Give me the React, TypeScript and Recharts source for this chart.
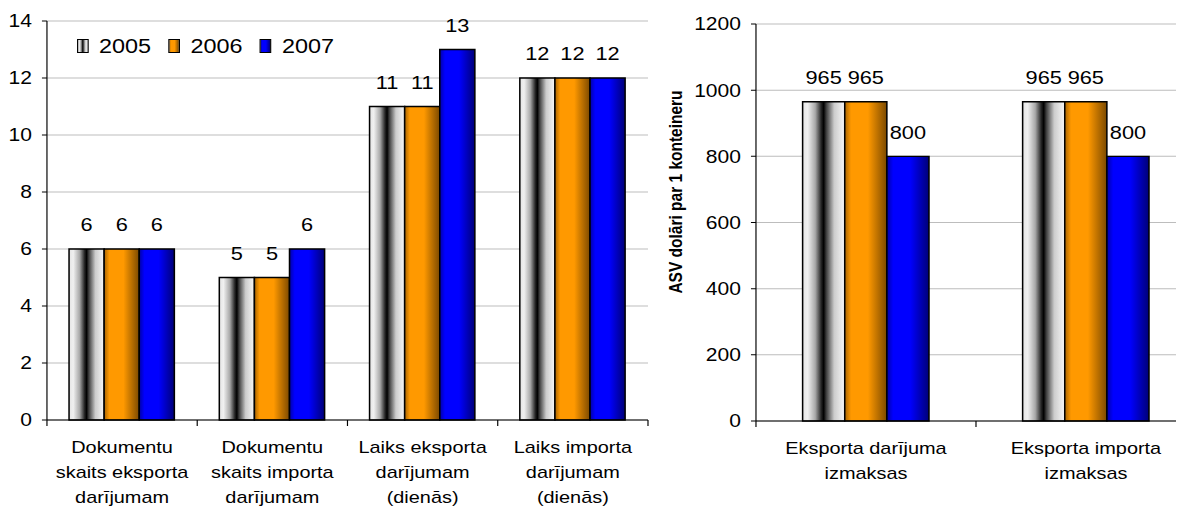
import React from 'react';
import { BarChart, Bar, XAxis, YAxis, CartesianGrid, LabelList, Legend, Label } from 'recharts';

// ---- data ----
const seriesNames = ['2005', '2006', '2007'];

const leftCategories = [
  'Dokumentu\nskaits eksporta\ndarījumam',
  'Dokumentu\nskaits importa\ndarījumam',
  'Laiks eksporta\ndarījumam\n(dienās)',
  'Laiks importa\ndarījumam\n(dienās)',
];
const left2005 = [6, 5, 11, 12];
const left2006 = [6, 5, 11, 12];
const left2007 = [6, 6, 13, 12];
const leftTicks = [0, 2, 4, 6, 8, 10, 12, 14];

const rightCategories = ['Eksporta darījuma\nizmaksas', 'Eksporta importa\nizmaksas'];
const right2005 = [965, 965];
const right2006 = [965, 965];
const right2007 = [800, 800];
const rightTicks = [0, 200, 400, 600, 800, 1000, 1200];
const rightAxisTitle = 'ASV dolāri par 1 konteineru';

const leftData = leftCategories.map((name, i) => ({
  name, y2005: left2005[i], y2006: left2006[i], y2007: left2007[i],
}));
const rightData = rightCategories.map((name, i) => ({
  name, y2005: right2005[i], y2006: right2006[i], y2007: right2007[i],
}));

// ---- layout ----
const STRETCH = 1.17;
const FONT = '"Liberation Sans", Arial, Helvetica, sans-serif';
const H = 508;

const LW = 549;
const L_MARGIN = { top: 13, right: 2, bottom: 16, left: 0 };
const L_YW = 33.3;
const L_BAND = (LW - L_MARGIN.left - L_MARGIN.right - L_YW) / leftCategories.length;

const RW = 466.4;
const R_MARGIN = { top: 16, right: 0, bottom: 15, left: 0 };
const R_YW = 90.3;
const R_BAND = (RW - R_MARGIN.left - R_MARGIN.right - R_YW) / rightCategories.length;

const GRAD_STOPS: Record<string, [number, string][]> = {
  s2005: [
    [0, '#e4e4e4'], [0.12, '#f0f0f0'], [0.3, '#a8a8a8'], [0.44, '#262626'],
    [0.5, '#000000'], [0.56, '#3c3c3c'], [0.75, '#cccccc'], [1, '#f8f8f8'],
  ],
  s2006: [[0, '#a86400'], [0.15, '#ff9900'], [0.55, '#ff9900'], [1, '#7c4a00']],
  s2007: [[0, '#0000a8'], [0.15, '#0000ff'], [0.55, '#0000ff'], [1, '#000078']],
};
const seriesKeys = ['s2005', 's2006', 's2007'];

const cssGradient = (key: string) =>
  `linear-gradient(to right, ${GRAD_STOPS[key].map(([o, c]) => `${c} ${o * 100}%`).join(', ')})`;

const Gradients = ({ prefix }: { prefix: string }) => (
  <defs>
    {seriesKeys.map((k) => (
      <linearGradient key={k} id={`${prefix}-${k}`} x1="0" y1="0" x2="1" y2="0">
        {GRAD_STOPS[k].map(([o, c], i) => (
          <stop key={i} offset={o} stopColor={c} />
        ))}
      </linearGradient>
    ))}
  </defs>
);

// category labels centred under each band, with tick marks on the band edges
const makeCategoryTick = (band: number, count: number) => (props: any) => {
  const { x, y, payload, index } = props;
  const lines = String(payload.value).split('\n');
  return (
    <g>
      <line x1={x - band / 2} x2={x - band / 2} y1={y} y2={y + 6} stroke="#000" />
      {index === count - 1 && (
        <line x1={x + band / 2} x2={x + band / 2} y1={y} y2={y + 6} stroke="#000" />
      )}
      <text x={x} y={y} textAnchor="middle" fontSize={17} fill="#000">
        {lines.map((l, i) => (
          <tspan key={i} x={x} y={y + 33 + i * 25}>{l}</tspan>
        ))}
      </text>
    </g>
  );
};

const LegendContent = () => (
  <div style={{ display: 'flex', alignItems: 'center', fontFamily: FONT, fontSize: 20, lineHeight: '20px', color: '#000' }}>
    {seriesNames.map((n, i) => (
      <div key={n} style={{ display: 'flex', alignItems: 'center', width: 78.2, height: 20 }}>
        <span
          style={{
            display: 'inline-block', width: 10, height: 14, boxSizing: 'border-box',
            border: '1px solid #000', background: cssGradient(seriesKeys[i]),
          }}
        />
        <span style={{ marginLeft: 8.8 }}>{n}</span>
      </div>
    ))}
  </div>
);

const renderBars = (prefix: string) =>
  seriesKeys.map((k, i) => (
    <Bar
      key={k}
      dataKey={`y${seriesNames[i]}`}
      name={seriesNames[i]}
      fill={`url(#${prefix}-${k})`}
      stroke="#000"
      strokeWidth={1.3}
      isAnimationActive={false}
    >
      <LabelList dataKey={`y${seriesNames[i]}`} position="top" offset={17.5} fontSize={18.6} fill="#000" />
    </Bar>
  ));

const AxisTitle = (props: any) => {
  const vb = props.viewBox || { x: 0 };
  const cx = vb.x + 27;
  const cy = 184;
  return (
    <text
      x={cx} y={cy} transform={`rotate(-90 ${cx} ${cy})`}
      textAnchor="middle" fontWeight="bold" fontSize={15.5} fill="#000"
    >
      {rightAxisTitle}
    </text>
  );
};

export default function App() {
  return (
    <div style={{ width: 1176, height: H, overflow: 'hidden', fontFamily: FONT, background: '#fff' }}>
      <div
        style={{
          display: 'flex', width: LW + RW, height: H,
          transform: `scaleX(${STRETCH})`, transformOrigin: '0 0',
        }}
      >
        <div style={{ flex: '0 0 auto', width: LW }}>
          <BarChart width={LW} height={H} data={leftData} margin={L_MARGIN} barCategoryGap="14.7%" barGap={0}>
            <Gradients prefix="L" />
            <CartesianGrid vertical={false} stroke="#bdbdbd" />
            <XAxis
              dataKey="name" interval={0} height={80} tickSize={0} tickMargin={0}
              tickLine={false} axisLine={{ stroke: '#000' }}
              tick={makeCategoryTick(L_BAND, leftCategories.length)}
            />
            <YAxis
              width={L_YW} domain={[0, 14]} ticks={leftTicks} interval={0}
              tickSize={4.3} tickMargin={8.5}
              axisLine={{ stroke: '#000' }} tickLine={{ stroke: '#000' }}
              tick={{ fill: '#000', fontSize: 18 }}
            />
            <Legend
              layout="horizontal" verticalAlign="middle" align="center"
              wrapperStyle={{ top: 27.75, left: 59, width: 'auto', height: 'auto' }}
              content={LegendContent}
            />
            {renderBars('L')}
          </BarChart>
        </div>
        <div style={{ flex: '0 0 auto', width: RW }}>
          <BarChart width={RW} height={H} data={rightData} margin={R_MARGIN} barCategoryGap="21.2%" barGap={0}>
            <Gradients prefix="R" />
            <CartesianGrid vertical={false} stroke="#bdbdbd" />
            <XAxis
              dataKey="name" interval={0} height={80} tickSize={0} tickMargin={0}
              tickLine={false} axisLine={{ stroke: '#000' }}
              tick={makeCategoryTick(R_BAND, rightCategories.length)}
            />
            <YAxis
              width={R_YW} domain={[0, 1200]} ticks={rightTicks} interval={0}
              tickSize={4.3} tickMargin={8.5}
              axisLine={{ stroke: '#000' }} tickLine={{ stroke: '#000' }}
              tick={{ fill: '#000', fontSize: 18 }}
            >
              <Label content={AxisTitle} />
            </YAxis>
            {renderBars('R')}
          </BarChart>
        </div>
      </div>
    </div>
  );
}
